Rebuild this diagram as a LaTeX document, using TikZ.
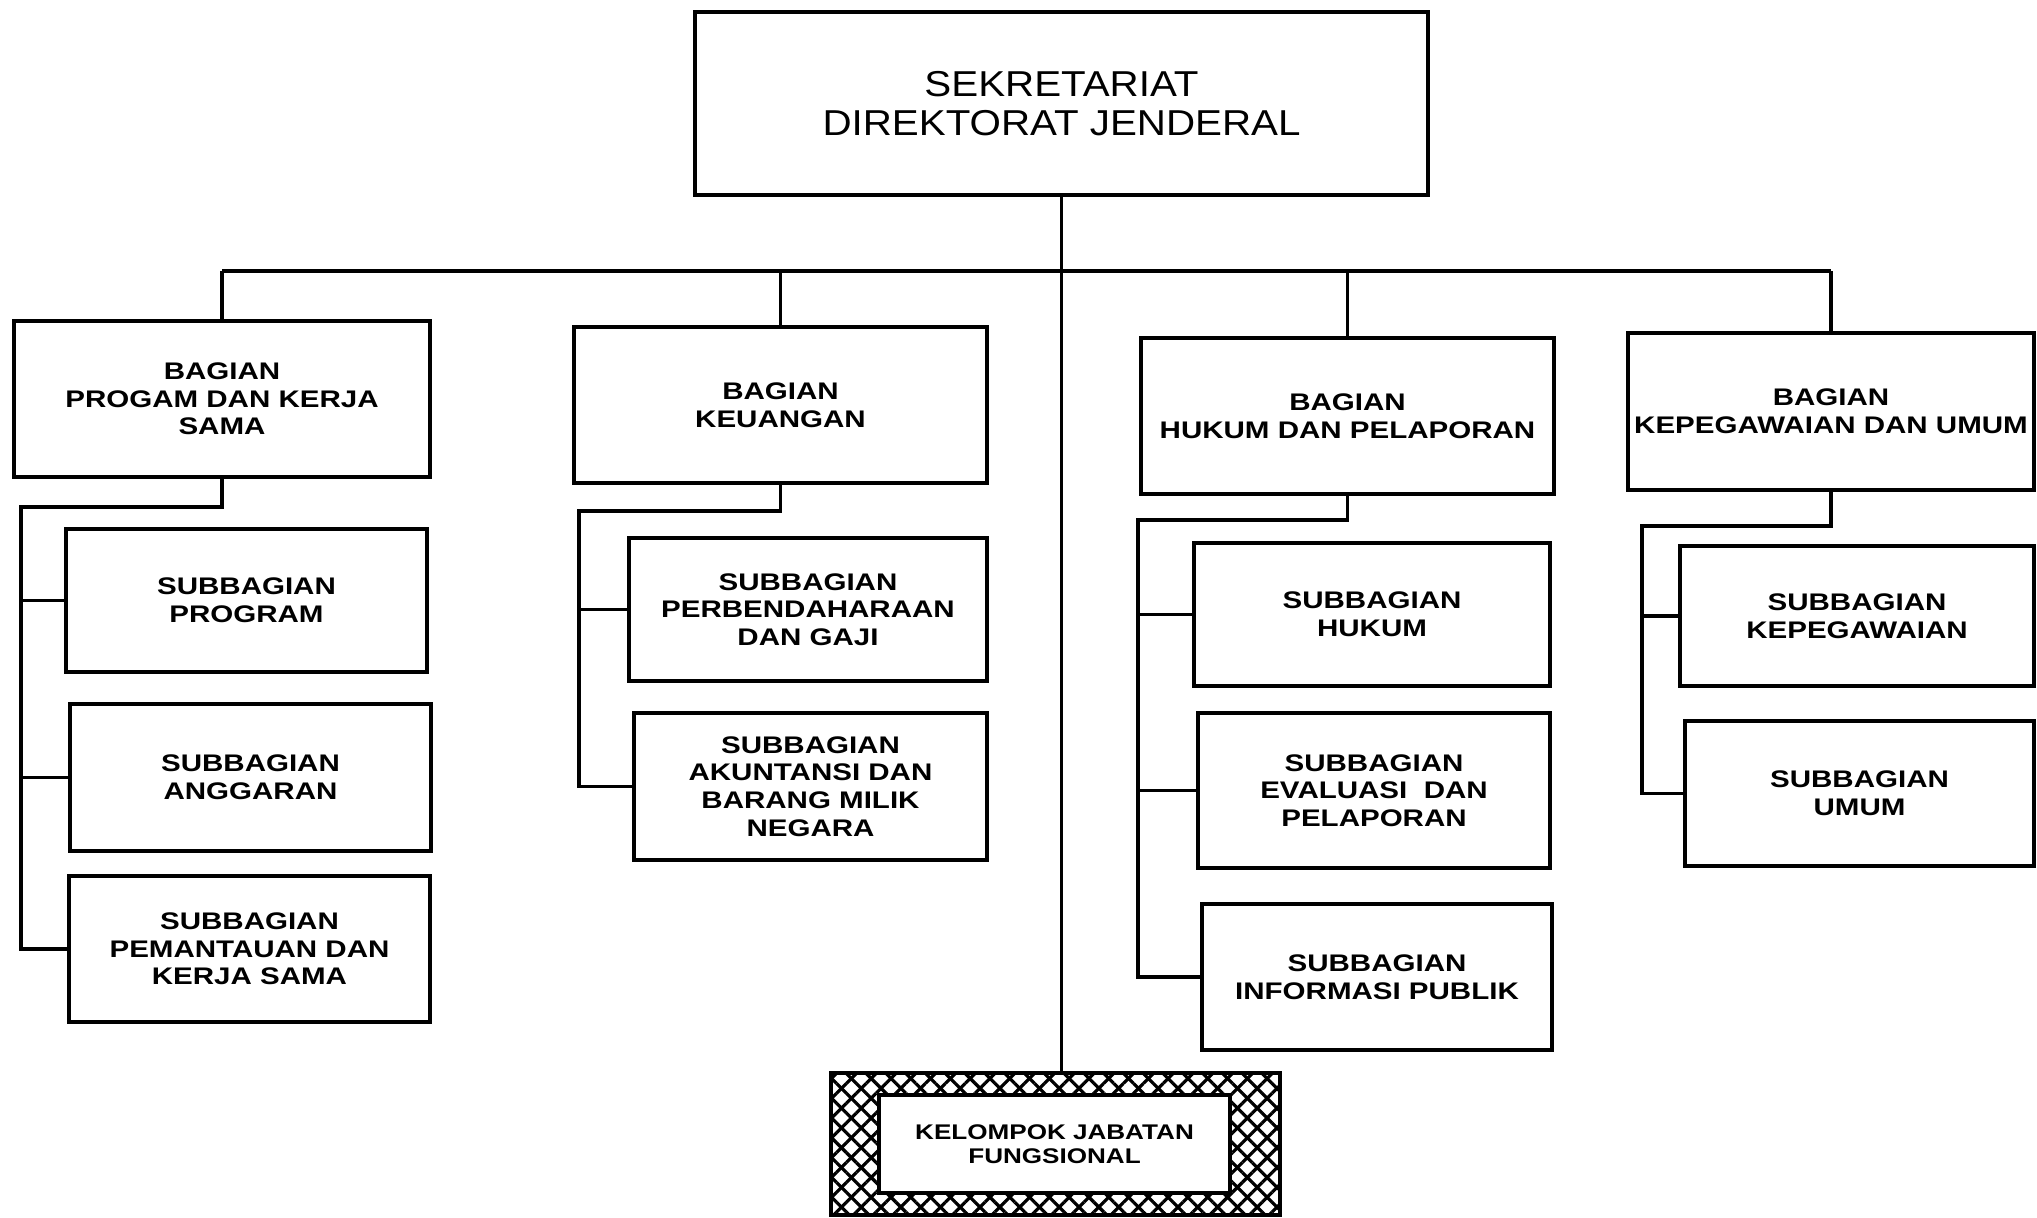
\documentclass[tikz,border=0pt]{standalone}
\usepackage{fontspec}
\setmainfont{Liberation Sans}
\newfontfamily\wideb[FakeStretch=1.23]{Liberation Sans}
\newfontfamily\widet[FakeStretch=1.12]{Liberation Sans}
\usetikzlibrary{fit,patterns.meta}
\begin{document}
\begin{tikzpicture}[x=0.5pt,y=-0.5pt,
  box/.style={draw, line width=1.8pt, inner sep=0pt},
  lbl/.style={inner sep=0pt, align=center,
    font=\wideb\bfseries\fontsize{12}{13.8}\selectfont},
  toplbl/.style={inner sep=0pt, align=center,
    font=\widet\fontsize{18}{19.5}\selectfont},
  conn/.style={line width=1.7pt, line join=miter}]
\useasboundingbox (0,0) rectangle (2037,1217);
% top
\node (sek) [box, line width=2pt, fit={(695,12) (1428,195)}] {};
\node (tsek) [toplbl] at (sek.center) {SEKRETARIAT\\DIREKTORAT JENDERAL};
% bagian
\node (b1) [box, fit={(14,321) (430,477)}] {};
\node (b2) [box, fit={(574,327) (987,483)}] {};
\node (b3) [box, fit={(1141,338) (1554,494)}] {};
\node (b4) [box, fit={(1628,333) (2034,490)}] {};
\node (tb1) [lbl] at (b1.center) {BAGIAN\\PROGAM DAN KERJA\\SAMA};
\node (tb2) [lbl] at (b2.center) {BAGIAN\\KEUANGAN};
\node (tb3) [lbl] at (b3.center) {BAGIAN\\HUKUM DAN PELAPORAN};
\node (tb4) [lbl] at (b4.center) {BAGIAN\\KEPEGAWAIAN DAN UMUM};
% subbagian col 1
\node (s11) [box, fit={(66,529) (427,672)}] {};
\node (s12) [box, fit={(70,704) (431,851)}] {};
\node (s13) [box, fit={(69,876) (430,1022)}] {};
\node (ts11) [lbl] at (s11.center) {SUBBAGIAN\\PROGRAM};
\node (ts12) [lbl] at (s12.center) {SUBBAGIAN\\ANGGARAN};
\node (ts13) [lbl] at (s13.center) {SUBBAGIAN\\PEMANTAUAN DAN\\KERJA SAMA};
% col 2
\node (s21) [box, fit={(629,538) (987,681)}] {};
\node (s22) [box, fit={(634,713) (987,860)}] {};
\node (ts21) [lbl] at (s21.center) {SUBBAGIAN\\PERBENDAHARAAN\\DAN GAJI};
\node (ts22) [lbl] at (s22.center) {SUBBAGIAN\\AKUNTANSI DAN\\BARANG MILIK\\NEGARA};
% col 3
\node (s31) [box, fit={(1194,543) (1550,686)}] {};
\node (s32) [box, fit={(1198,713) (1550,868)}] {};
\node (s33) [box, fit={(1202,904) (1552,1050)}] {};
\node (ts31) [lbl] at (s31.center) {SUBBAGIAN\\HUKUM};
\node (ts32) [lbl] at (s32.center) {SUBBAGIAN\\EVALUASI \ DAN\\PELAPORAN};
\node (ts33) [lbl] at (s33.center) {SUBBAGIAN\\INFORMASI PUBLIK};
% col 4
\node (s41) [box, fit={(1680,546) (2034,686)}] {};
\node (s42) [box, fit={(1685,721) (2034,866)}] {};
\node (ts41) [lbl] at (s41.center) {SUBBAGIAN\\KEPEGAWAIAN};
\node (ts42) [lbl] at (s42.center) {SUBBAGIAN\\UMUM};
% kelompok
\node (kelo) [draw, line width=2.2pt, inner sep=0pt, fit={(831,1073) (1280,1215)},
  pattern={Lines[angle=45,distance=7pt,line width=1.6pt]},
  postaction={pattern={Lines[angle=-45,distance=7pt,line width=1.6pt]}}] {};
\node (kel) [box, fill=white, line width=2.2pt, fit={(879,1095) (1230,1193)}] {};
\node (tkel) [lbl, font=\wideb\bfseries\fontsize{10.6}{12.3}\selectfont] at (kel.center)
  {KELOMPOK JABATAN\\FUNGSIONAL};
% connectors
\coordinate (bus) at (0,271);
\draw[conn] (sek.south) -- (sek.south |- kelo.north);
\draw[conn] (b1.north |- bus) -- (b4.north |- bus);
\foreach \b in {b1,b2,b3,b4} \draw[conn] (\b.north) -- (\b.north |- bus);
\coordinate (c1) at (21,507);
\coordinate (c2) at (579,511);
\coordinate (c3) at (1138,520);
\coordinate (c4) at (1642,526);
\draw[conn] (b1.south) -- (b1.south |- c1) -- (c1) -- (c1 |- s13.west) -- (s13.west);
\draw[conn] (c1 |- s11.west) -- (s11.west);
\draw[conn] (c1 |- s12.west) -- (s12.west);
\draw[conn] (b2.south) -- (b2.south |- c2) -- (c2) -- (c2 |- s22.west) -- (s22.west);
\draw[conn] (c2 |- s21.west) -- (s21.west);
\draw[conn] (b3.south) -- (b3.south |- c3) -- (c3) -- (c3 |- s33.west) -- (s33.west);
\draw[conn] (c3 |- s31.west) -- (s31.west);
\draw[conn] (c3 |- s32.west) -- (s32.west);
\draw[conn] (b4.south) -- (b4.south |- c4) -- (c4) -- (c4 |- s42.west) -- (s42.west);
\draw[conn] (c4 |- s41.west) -- (s41.west);
\end{tikzpicture}
\end{document}
